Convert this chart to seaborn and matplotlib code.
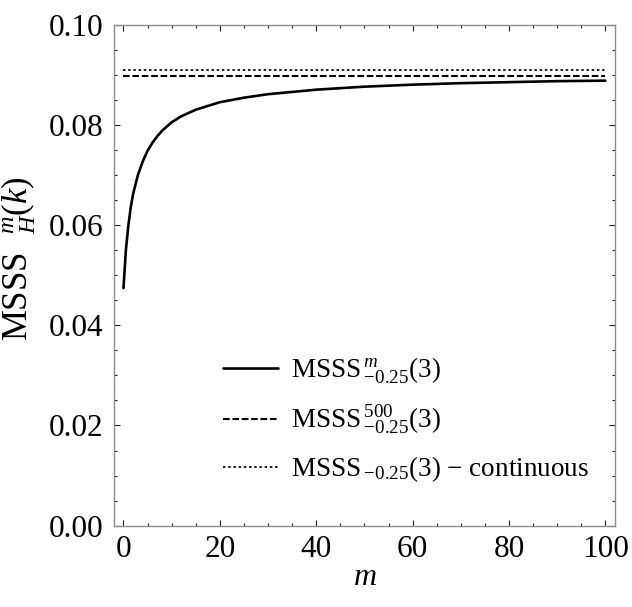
import matplotlib
matplotlib.use("Agg")
import matplotlib.pyplot as plt
import seaborn as sns
import pandas as pd
from matplotlib.ticker import MultipleLocator

# ---- data ----
m_values = [0, 0.5, 1, 1.5, 2, 3, 4, 5, 6, 7, 8, 10, 12, 15, 20, 25, 30,
            40, 50, 60, 70, 80, 90, 100]
msss_m = [0.0474, 0.0550, 0.0598, 0.0635, 0.0662, 0.0700, 0.0727, 0.0748,
          0.0764, 0.0777, 0.0788, 0.0805, 0.0817, 0.0830, 0.0845, 0.0854,
          0.0861, 0.0870, 0.0876, 0.0880, 0.0883, 0.0885, 0.0887, 0.0888]
flat_m = [0, 100]
msss_500 = [0.0898, 0.0898]
msss_cont = [0.0909, 0.0909]

labels = [r"MSSS$\,{}^{m}_{-0.25}(3)$",
          r"MSSS$\,{}^{500}_{-0.25}(3)$",
          "MSSS$\\,{}_{-0.25}(3)$ \u2212 continuous"]
x_ticks = [0, 20, 40, 60, 80, 100]
y_ticks = [0.00, 0.02, 0.04, 0.06, 0.08, 0.10]

sns.set_style("ticks")
plt.rcParams["font.family"] = ["Liberation Serif", "DejaVu Serif"]
plt.rcParams["mathtext.fontset"] = "custom"
plt.rcParams["mathtext.rm"] = "Liberation Serif"
plt.rcParams["mathtext.it"] = "Liberation Serif:italic"
plt.rcParams["mathtext.bf"] = "Liberation Serif:bold"
for key in ["text.color", "axes.labelcolor", "xtick.labelcolor",
            "ytick.labelcolor"]:
    plt.rcParams[key] = "black"

fig = plt.figure(figsize=(6.32, 6.07), dpi=100)
ax = fig.add_axes([0.1796, 0.1339, 0.7940, 0.8257])

df1 = pd.DataFrame({"m": m_values, "v": msss_m})
df2 = pd.DataFrame({"m": flat_m, "v": msss_500})
df3 = pd.DataFrame({"m": flat_m, "v": msss_cont})

sns.lineplot(data=df1, x="m", y="v", ax=ax, color="black", lw=1.9,
             label=labels[0])
sns.lineplot(data=df2, x="m", y="v", ax=ax, color="black", lw=1.5,
             label=labels[1], dashes=False)
sns.lineplot(data=df3, x="m", y="v", ax=ax, color="black", lw=1.25,
             label=labels[2], dashes=False)
ax.lines[1].set_dashes((3.2, 1.3))
ax.lines[2].set_dashes((1.4, 1.6))

ax.set_xlim(-2.07, 102.07)
ax.set_ylim(0, 0.10)
ax.set_xticks(x_ticks)
ax.set_yticks(y_ticks)
ax.set_xticklabels([str(t) for t in x_ticks])
ax.set_yticklabels([f"{t:.2f}" for t in y_ticks])
ax.xaxis.set_minor_locator(MultipleLocator(5))
ax.yaxis.set_minor_locator(MultipleLocator(0.005))

for s in ax.spines.values():
    s.set_visible(True)
    s.set_color("#8c8c8c")
    s.set_linewidth(1.0)

ax.tick_params(which="both", direction="in", top=True, right=True,
               color="#222222", width=0.8)
ax.tick_params(which="major", length=4.3, labelsize=22.5, pad=7)
ax.tick_params(which="minor", length=2.5)

ax.set_xlabel(r"$m$", fontsize=23, labelpad=-1)
ax.set_ylabel(r"MSSS$\;\;\,{}^{m}_{H}(k)$", fontsize=25)
ax.yaxis.set_label_coords(-0.150, 0.532)

leg = ax.legend(loc="center left", bbox_to_anchor=(0.218, 0.211),
                frameon=False, fontsize=19.5, handlelength=2.05,
                handletextpad=0.45, labelspacing=0.64, borderpad=0,
                borderaxespad=0)

fig.savefig("out.png", dpi=100)
